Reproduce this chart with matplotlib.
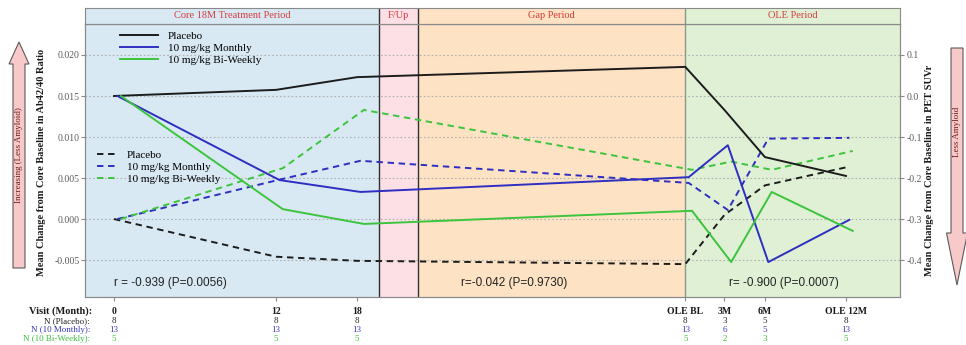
import matplotlib
matplotlib.use("Agg")
import matplotlib.pyplot as plt
import matplotlib.transforms as mtransforms
from matplotlib.lines import Line2D
from matplotlib.patches import FancyArrow

plt.rcParams['font.family'] = ['Liberation Serif', 'DejaVu Serif']

# visits on a common month timeline
visit_labels = ['0', '12', '18', 'OLE BL', '3M', '6M', 'OLE 12M']
visit_x = [0, 12, 18, 42.3, 45.2, 48.2, 54.2]

# mean change in PET SUVr (right axis, solid)
pet_placebo = [0.0, 0.015, 0.046, 0.071, -0.034, -0.149, -0.195]
pet_monthly = [0.0, -0.205, -0.234, -0.198, -0.120, -0.405, -0.302]
pet_biweekly = [0.0, -0.276, -0.312, -0.280, -0.405, -0.234, -0.329]

# mean change in plasma Ab42/40 ratio (left axis, dashed)
ratio_placebo = [0.0, -0.0046, -0.0051, -0.0055, 0.0005, 0.0041, 0.0063]
ratio_monthly = [0.0, 0.0048, 0.0071, 0.0044, 0.0011, 0.0098, 0.0099]
ratio_biweekly = [0.0, 0.0062, 0.0133, 0.0060, 0.0070, 0.0060, 0.0083]

n_placebo = [8, 8, 8, 8, 3, 5, 8]
n_monthly = [13, 13, 13, 13, 6, 5, 13]
n_biweekly = [5, 5, 5, 5, 2, 3, 5]

group_names = ['Placebo', '10 mg/kg Monthly', '10 mg/kg Bi-Weekly']
n_row_names = ['N (Placebo):', 'N (10 Monthly):', 'N (10 Bi-Weekly):']

periods = ['Core 18M Treatment Period', 'F/Up', 'Gap Period', 'OLE Period']
period_edges = [-2.15, 19.63, 22.52, 42.3, 58.2]

r_texts = ['r = -0.939 (P=0.0056)', 'r=-0.042 (P=0.9730)', 'r= -0.900 (P=0.0007)']
r_x = [4.2, 29.6, 49.6]

# styling
colors = ['#1c1c1c', '#2e2ec0', '#3cc43c']
text_colors = ['#222222', '#3a3ac0', '#3cc03c']
jitter = [0.0, 0.25, 0.5]
period_colors = ['#d8e9f3', '#fce0e6', '#fde2c4', '#e0f0d5']
spine_c = '#8a8a8a'
W, H = 966, 345


def px(l, t, r, b):
    return [l / W, 1 - b / H, (r - l) / W, (b - t) / H]


fig = plt.figure(figsize=(W / 100, H / 100), dpi=100)
ax = fig.add_axes(px(85, 24, 900, 297))
axh = fig.add_axes(px(85, 8, 900, 24))

ylo, yhi = -0.00951, 0.02378
ax.set_xlim(period_edges[0], period_edges[-1])
ax.set_ylim(ylo, yhi)
ax2 = ax.twinx()
ax2.set_ylim((ylo - 0.015) * 20, (yhi - 0.015) * 20)

# period backgrounds
for i in range(len(periods)):
    ax.axvspan(period_edges[i], period_edges[i + 1], color=period_colors[i], zorder=0, lw=0)
    axh.axvspan(period_edges[i], period_edges[i + 1], color=period_colors[i], zorder=0, lw=0)
    axh.text((period_edges[i] + period_edges[i + 1]) / 2, 0.5, periods[i],
             ha='center', va='center', color='#d43c3c', fontsize=7.5)
for i, e in enumerate(period_edges[1:-1]):
    c = '#303030' if i < 2 else '#8a9a8a'
    ax.axvline(e, color=c, lw=1.0, zorder=1.6)
    axh.axvline(e, color=c, lw=1.0)

axh.set_xlim(period_edges[0], period_edges[-1])
axh.set_ylim(0, 1)
axh.set_xticks([])
axh.set_yticks([])
for s in axh.spines.values():
    s.set_color(spine_c)

# lines
ratios = [ratio_placebo, ratio_monthly, ratio_biweekly]
pets = [pet_placebo, pet_monthly, pet_biweekly]
for k in range(3):
    xs = [x + jitter[k] for x in visit_x]
    ax.plot(xs, ratios[k], color=colors[k], lw=1.4, dashes=(3.3, 2.4), zorder=3)
    ax2.plot(xs, pets[k], color=colors[k], lw=1.4, zorder=3)

# axes
ax.set_yticks([-0.005, 0.0, 0.005, 0.010, 0.015, 0.020])
ax.set_yticklabels(['%.3f' % v for v in ax.get_yticks()])
ax2.set_yticks([-0.4, -0.3, -0.2, -0.1, 0.0, 0.1])
ax2.set_yticklabels(['%.1f' % v for v in ax2.get_yticks()])
ax.yaxis.grid(True, linestyle=(0, (1.5, 2)), color='#b0b0b0', lw=0.8)
ax.set_xticks(visit_x)
ax.set_xticklabels(visit_labels, fontweight='bold', fontsize=7)
ax.tick_params(axis='x', length=3, color=spine_c, pad=4, labelcolor='#1a1a1a')
ax.tick_params(axis='y', length=3, color=spine_c, labelsize=7, labelcolor='#5a5a5a', pad=1)
ax2.tick_params(axis='y', length=3, color=spine_c, labelsize=7, labelcolor='#5a5a5a', pad=2)
for a in (ax, ax2):
    for s in a.spines.values():
        s.set_color(spine_c)

# r annotations
tr = mtransforms.blended_transform_factory(ax.transData, ax.transAxes)
for x, s in zip(r_x, r_texts):
    ax2.text(x, 0.051, s, transform=tr, ha='center', va='center', fontsize=8.5,
             family=['Liberation Sans', 'DejaVu Sans'], color='#222222')

# legends
solid_h = [Line2D([], [], color=c, lw=1.4) for c in colors]
dash_h = [Line2D([], [], color=c, lw=1.4, dashes=(3.3, 2.4)) for c in colors]
leg1 = ax2.legend(solid_h, group_names, loc='upper left', bbox_to_anchor=(0.043, 0.975),
                  frameon=False, fontsize=8, handlelength=3.4, handletextpad=0.9,
                  labelspacing=0.22, borderpad=0, borderaxespad=0)
ax2.add_artist(leg1)
ax2.legend(dash_h, group_names, loc='upper left', bbox_to_anchor=(0.0147, 0.538),
           frameon=False, fontsize=8, handlelength=1.6, handletextpad=1.1,
           labelspacing=0.2, borderpad=0, borderaxespad=0)

# N table below the axis
trn = mtransforms.blended_transform_factory(ax.transData, fig.transFigure)
fig.text(92 / W, 1 - 311 / H, 'Visit (Month):', ha='right', va='center',
         fontweight='bold', fontsize=7.5, color='#1a1a1a')
n_rows = [n_placebo, n_monthly, n_biweekly]
row_y = [321, 330, 339]
for k in range(3):
    fig.text(90 / W, 1 - row_y[k] / H, n_row_names[k], ha='right', va='center',
             fontsize=6.5, color=text_colors[k])
    for x, n in zip(visit_x, n_rows[k]):
        ax.text(x, 1 - row_y[k] / H, str(n), transform=trn, ha='center', va='center',
                fontsize=6.5, color=text_colors[k])

# outer labels and arrows
ov = fig.add_axes([0, 0, 1, 1], zorder=-1)
ov.set_xlim(0, W)
ov.set_ylim(H, 0)
ov.axis('off')
ov.add_patch(FancyArrow(19, 268, 0, -226, width=12, head_width=20, head_length=22,
                        length_includes_head=True, fc='#f8c9c9', ec='#5a5a5a', lw=0.8))
ov.add_patch(FancyArrow(957, 48, 0, 237, width=12, head_width=21, head_length=52,
                        length_includes_head=True, fc='#f8c9c9', ec='#5a5a5a', lw=0.8))
ov.text(19, 155, 'Increasing (Less Amyloid)', rotation=90, ha='center', va='center',
        fontsize=6.5, color='#6a1a1a')
ov.text(957, 132, 'Less Amyloid', rotation=90, ha='center', va='center',
        fontsize=6.5, color='#6a1a1a')
ov.text(42, 162, 'Mean Change from Core Baseline in Ab42/40 Ratio', rotation=90,
        ha='center', va='center', fontsize=7.5, fontweight='bold', color='#1a1a1a')
ov.text(930, 170, 'Mean Change from Core Baseline in PET SUVr', rotation=90,
        ha='center', va='center', fontsize=7.5, fontweight='bold', color='#1a1a1a')

fig.savefig('out.png', dpi=100)
